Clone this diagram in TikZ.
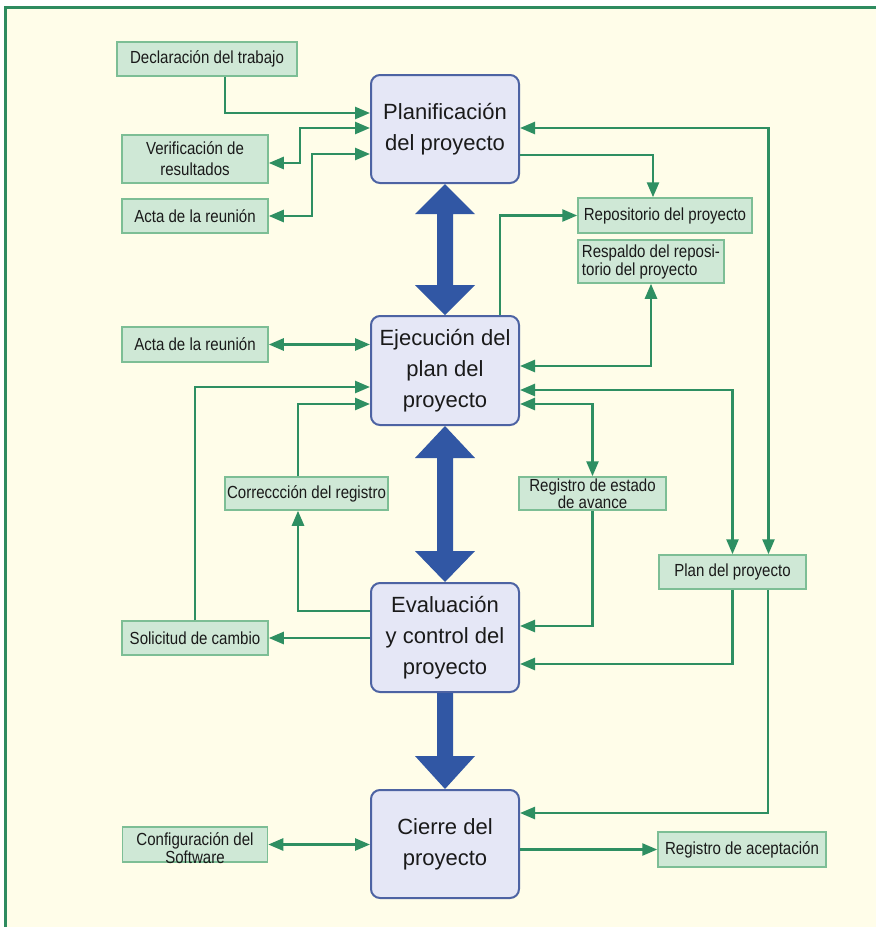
\documentclass[tikz,border=0pt]{standalone}
\usepackage{fontspec}
\setmainfont{Liberation Sans}
\newfontfamily\smf{Liberation Sans}[FakeStretch=0.86]
\usetikzlibrary{arrows.meta,calc}
\definecolor{bgcol}{HTML}{FFFDE9}
\definecolor{framecol}{HTML}{2E8B5F}
\definecolor{sfill}{HTML}{CFE8D6}
\definecolor{sdraw}{HTML}{7DBE95}
\definecolor{conncol}{HTML}{2E8F62}
\definecolor{mfill}{HTML}{E5E7F6}
\definecolor{mdraw}{HTML}{4D63A3}
\definecolor{bigblue}{HTML}{3157A4}
\definecolor{txt}{HTML}{1A1A1A}
\begin{document}
\begin{tikzpicture}[x=1pt,y=-1pt,
  sbox/.style={draw=sdraw, fill=sfill, line width=1.5pt, inner sep=0pt, align=center, text=txt,
    font=\smf\fontsize{17.5}{19}\selectfont},
  mbox/.style={draw=mdraw, fill=mfill, line width=2pt, rounded corners=9pt, minimum width=148pt,
    inner sep=0pt, align=center, text=txt, font=\fontsize{22}{31}\selectfont},
  conn/.style={draw=conncol, line width=2.5pt, -{Triangle[length=15pt,width=12pt]}},
  conntwo/.style={draw=conncol, line width=2.5pt, {Triangle[length=15pt,width=12pt]}-{Triangle[length=15pt,width=12pt]}},
  bigarrow/.style={fill=bigblue, draw=none}
]
\useasboundingbox (0,0) rectangle (876,927);
\fill[white] (0,0) rectangle (876,927);
\fill[bgcol] (5,7) rectangle (876,927);
\draw[framecol, line width=3pt] (5,927) -- (5,7) -- (876,7);

% main boxes
\node[mbox, minimum height=108pt] (planif) at (445,129) {Planificación\\del proyecto};
\node[mbox, minimum height=109pt] (ejec) at (445,370.5) {Ejecución del\\plan del\\proyecto};
\node[mbox, minimum height=109pt] (eval) at (445,637.5) {Evaluación\\y control del\\proyecto};
\node[mbox, minimum height=108pt] (cierre) at (445,844) {Cierre del\\proyecto};

% small boxes
\node[sbox, minimum width=180pt, minimum height=34pt] (decl) at (207,59) {Declaración del trabajo};
\node[sbox, minimum width=146pt, minimum height=48pt, font=\smf\fontsize{17.5}{21}\selectfont] (verif) at (195,159) {Verificación de\\resultados};
\node[sbox, minimum width=146pt, minimum height=34pt] (actaa) at (195,216) {Acta de la reunión};
\node[sbox, minimum width=174pt, minimum height=35pt] (repo) at (665,215.5) {Repositorio del proyecto};
\node[sbox, minimum width=146pt, minimum height=43pt, align=left, font=\smf\fontsize{17.5}{18}\selectfont] (resp) at (651,261.5) {Respaldo del reposi-\\torio del proyecto};
\node[sbox, minimum width=146pt, minimum height=35pt] (actab) at (195,344.5) {Acta de la reunión};
\node[sbox, minimum width=163pt, minimum height=33pt] (corr) at (306.5,493.5) {Correccción del registro};
\node[sbox, minimum width=147pt, minimum height=33pt, font=\smf\fontsize{17.5}{15.5}\selectfont] (regest) at (592.5,493.5) {Registro de estado\\de avance};
\node[sbox, minimum width=147pt, minimum height=34pt] (plan) at (732.5,572) {Plan del proyecto};
\node[sbox, minimum width=146pt, minimum height=34pt] (solic) at (195,638) {Solicitud de cambio};
\node[sbox, minimum width=145pt, minimum height=35pt] (config) at (195,844.5)
  {\smash{\raisebox{-11pt}{\begin{tabular}{@{}c@{}}Configuración del\\[-1pt]Software\end{tabular}}}};
\node[sbox, minimum width=168pt, minimum height=35pt] (acept) at (742,849.5) {Registro de aceptación};

% big blue arrows
\fill[bigarrow] (planif.south) -- ++(30pt,-30pt) -- ++(-22pt,0pt)
  -- ($(ejec.north)+(8pt,30pt)$) -- ++(22pt,0pt) -- (ejec.north) -- ++(-30pt,30pt) -- ++(22pt,0pt)
  -- ($(planif.south)+(-8pt,-30pt)$) -- ++(-22pt,0pt) -- cycle;
\fill[bigarrow] (ejec.south) -- ++(30pt,-32pt) -- ++(-22pt,0pt)
  -- ($(eval.north)+(8pt,31pt)$) -- ++(22pt,0pt) -- (eval.north) -- ++(-30pt,31pt) -- ++(22pt,0pt)
  -- ($(ejec.south)+(-8pt,-32pt)$) -- ++(-22pt,0pt) -- cycle;
\fill[bigarrow] ($(eval.south)+(-8pt,0pt)$) -- ($(cierre.north)+(-8pt,33pt)$) -- ++(-22pt,0pt)
  -- (cierre.north) -- ++(30pt,33pt) -- ++(-22pt,0pt) -- ($(eval.south)+(8pt,0pt)$) -- cycle;

% connectors: planificación
\draw[conn] ([xshift=18pt]decl.south) |- ([yshift=16pt]planif.west);
\draw[conntwo] ([yshift=-4pt]verif.east) -| (300,128) -- ([yshift=1pt]planif.west);
\draw[conntwo] (actaa.east) -| (312,154) -- ([yshift=-25pt]planif.west);
\draw[conntwo] ([yshift=1pt]planif.east) -| ([xshift=36pt]plan.north);
\draw[conn] ([yshift=-26pt]planif.east) -| ([xshift=-12pt]repo.north);

% connectors: ejecución
\draw[conn] ([xshift=55pt]ejec.north) |- (repo.west);
\draw[conntwo] ([yshift=4.5pt]ejec.east) -| (resp.south);
\draw[conntwo] ([yshift=-19.5pt]ejec.east) -| (plan.north);
\draw[conntwo] ([yshift=-33.5pt]ejec.east) -| (regest.north);
\draw[conntwo] (actab.east) -- (actab.east -| ejec.west);
\draw[conn] (solic.north) |- ([yshift=-16.5pt]ejec.west);
\draw[conn] ([xshift=-8.5pt]corr.north) |- ([yshift=-33.5pt]ejec.west);

% connectors: evaluación
\draw[conn] (regest.south) |- ([yshift=11.5pt]eval.east);
\draw[conn] (plan.south) |- ([yshift=-26.5pt]eval.east);
\draw[conn] ([yshift=26.5pt]eval.west) -| ([xshift=-8.5pt]corr.south);
\draw[conn] (solic.east -| eval.west) -- (solic.east);

% connectors: cierre
\draw[conn] ([xshift=35.5pt]plan.south) |- ([yshift=31pt]cierre.east);
\draw[conntwo] (config.east) -- (config.east -| cierre.west);
\draw[conn] (acept.west -| cierre.east) -- (acept.west);
\end{tikzpicture}
\end{document}
